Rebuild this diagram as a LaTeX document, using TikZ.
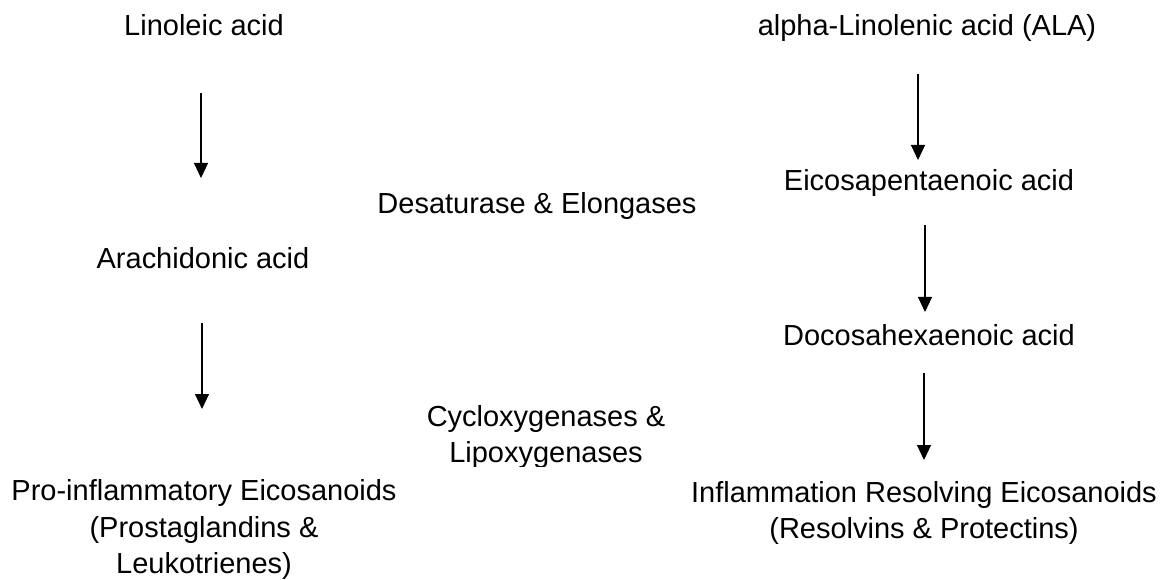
\documentclass[tikz,border=0pt]{standalone}
\usepackage{fontspec}
\setmainfont{Liberation Sans}
\usetikzlibrary{arrows.meta}
\begin{document}
\begin{tikzpicture}[x=0.02cm, y=-0.02cm,
        label/.style={anchor=base, inner sep=0pt, align=center,
            font=\fontsize{16.5}{20.8}\selectfont},
        flow/.style={line width=0.6pt, -{Triangle[width=0.28cm, length=0.3cm]}}]
        \useasboundingbox (0,0) rectangle (1170,580);
        % Omega-6 side of the picture.
            \node[label] (lin) at (204,36) {Linoleic acid};
            \node[label] (ara) at (203,269) {Arachidonic acid};
            \node[label] (pro) at (204,574) {Pro-inflammatory Eicosanoids\\(Prostaglandins \&\\Leukotrienes)};
        % Omega-3 side of the picture.
            \node[label] (ala) at (927,36) {alpha-Linolenic acid (ALA)};
            \node[label] (epa) at (929,191) {Eicosapentaenoic acid};
            \node[label] (dha) at (929,346) {Docosahexaenoic acid};
            \node[label] (inf) at (924,539) {Inflammation Resolving Eicosanoids\\(Resolvins \& Protectins)};
        % Enzymes in the middle, the second line is cut at the bottom.
            \node[label] (des) at (537,214) {Desaturase \& Elongases};
            \begin{scope}
                \clip (0,0) rectangle (1170,467);
                \node[label] (cyc) at (546,463) {Cycloxygenases \&\\Lipoxygenases};
            \end{scope}
        % End points of the arrows.
            \coordinate (lin-a) at (201,93);
            \coordinate (lin-b) at (201,178);
            \coordinate (ara-a) at (202,323);
            \coordinate (ara-b) at (202,409);
            \coordinate (ala-a) at (918,74);
            \coordinate (ala-b) at (918,160);
            \coordinate (epa-a) at (925,225);
            \coordinate (epa-b) at (925,312);
            \coordinate (dha-a) at (924,373);
            \coordinate (dha-b) at (924,460);
        % This draws the arrows.
            \draw[flow] (lin-a) -- (lin-b);
            \draw[flow] (ara-a) -- (ara-b);
            \draw[flow] (ala-a) -- (ala-b);
            \draw[flow] (epa-a) -- (epa-b);
            \draw[flow] (dha-a) -- (dha-b);
    \end{tikzpicture}
\end{document}
